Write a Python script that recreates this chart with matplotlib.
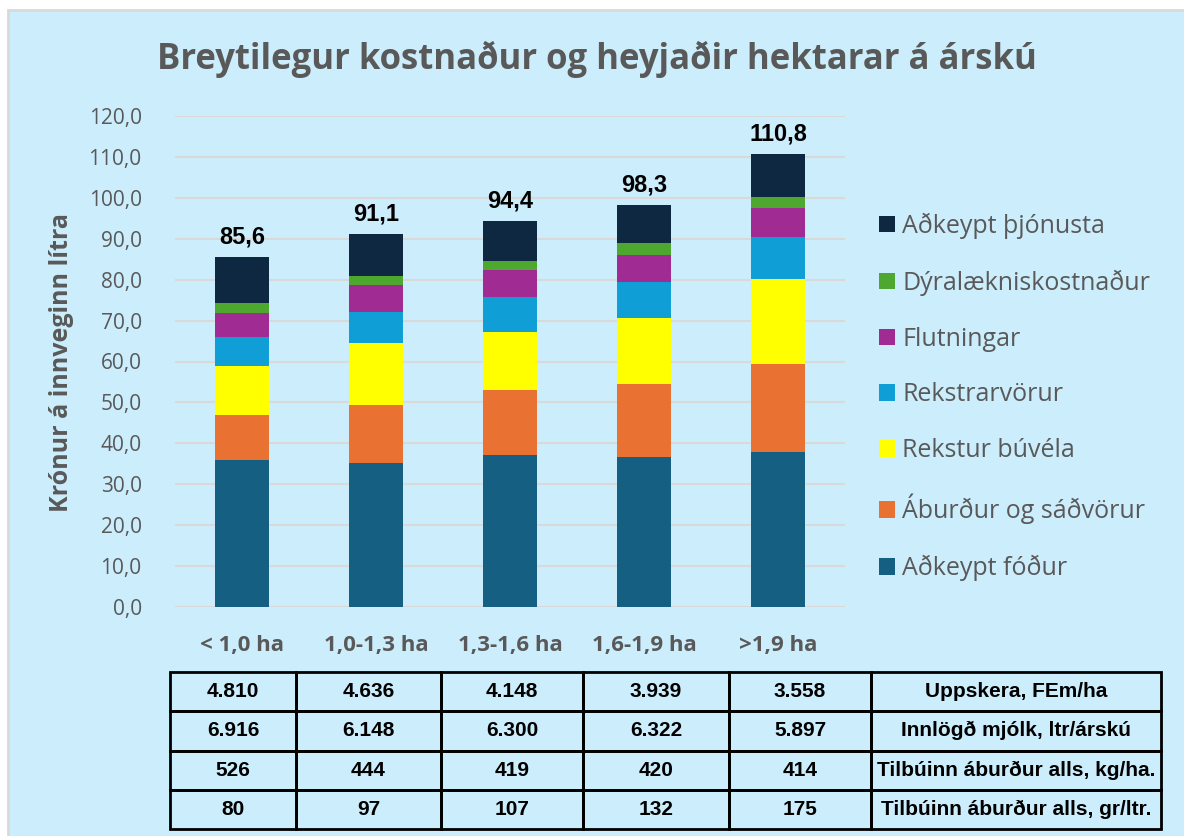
import matplotlib
matplotlib.use("Agg")
import matplotlib.pyplot as plt
from matplotlib.patches import Rectangle, Patch
from matplotlib.ticker import FuncFormatter, MultipleLocator

# --- Data ---
categories = ["< 1,0 ha", "1,0-1,3 ha", "1,3-1,6 ha", "1,6-1,9 ha", ">1,9 ha"]
fodur = [35.9, 35.3, 37.2, 36.6, 37.8]
aburdur = [11.0, 14.0, 15.9, 17.8, 21.7]
rekstur_buvela = [12.1, 15.2, 14.2, 16.3, 20.7]
rekstrarvorur = [6.9, 7.7, 8.4, 8.8, 10.3]
flutningar = [6.0, 6.6, 6.6, 6.6, 6.9]
dyralaeknis = [2.5, 2.2, 2.2, 2.8, 2.8]
thjonusta = [11.2, 10.1, 9.9, 9.4, 10.6]
totals = [85.6, 91.1, 94.4, 98.3, 110.8]

series_names = ["Aðkeypt fóður", "Áburður og sáðvörur", "Rekstur búvéla",
                "Rekstrarvörur", "Flutningar", "Dýralækniskostnaður",
                "Aðkeypt þjónusta"]
series_colors = ["#156082", "#E97132", "#FFFF00", "#0F9ED5", "#A02B93",
                 "#4EA72E", "#0E2841"]

# table below the chart
uppskera = [4810, 4636, 4148, 3939, 3558]
mjolk = [6916, 6148, 6300, 6322, 5897]
aburdur_kg_ha = [526, 444, 419, 420, 414]
aburdur_gr_ltr = [80, 97, 107, 132, 175]
row_labels = ["Uppskera, FEm/ha", "Innlögð mjólk, ltr/árskú",
              "Tilbúinn áburður alls, kg/ha.", "Tilbúinn áburður alls, gr/ltr."]

GRAY = "#595959"
BG = "#CCEDFB"
W, H = 1184, 836

fig = plt.figure(figsize=(W / 100, H / 100), dpi=100)
fig.patch.set_facecolor("white")
fig.add_artist(Rectangle((8 / W, -0.1), 1.2, (H - 10) / H + 0.1,
                         transform=fig.transFigure, facecolor=BG,
                         edgecolor="#D9D9D9", linewidth=2, zorder=-10))

ax = fig.add_axes([175 / W, (H - 607) / H, 670 / W, 491 / H])
ax.set_facecolor("none")

series = [fodur, aburdur, rekstur_buvela, rekstrarvorur, flutningar,
          dyralaeknis, thjonusta]
x = list(range(len(categories)))
bottom = [0.0] * len(categories)
handles = []
for name, vals, col in zip(series_names, series, series_colors):
    ax.bar(x, vals, width=0.4, bottom=bottom, color=col, zorder=3)
    bottom = [b + v for b, v in zip(bottom, vals)]
    handles.append(Patch(facecolor=col, label=name))

for xi, tot, top in zip(x, totals, bottom):
    ax.annotate(f"{tot:.1f}".replace(".", ","), (xi, top),
                xytext=(0, 6), textcoords="offset points",
                ha="center", va="bottom", fontsize=17, fontweight="bold",
                color="black", family="Liberation Sans")

ax.set_xlim(-0.5, 4.5)
ax.set_ylim(0, 120)
ax.yaxis.set_major_locator(MultipleLocator(10))
ax.yaxis.set_major_formatter(FuncFormatter(lambda v, p: f"{v:.1f}".replace(".", ",")))
ax.grid(axis="y", color="#D9D9D9", linewidth=1.5, zorder=0)
for s in ax.spines.values():
    s.set_visible(False)
ax.tick_params(axis="both", length=0)
ax.tick_params(axis="y", pad=24, labelsize=15, labelcolor=GRAY)
ax.tick_params(axis="x", pad=20, labelsize=16, labelcolor=GRAY)
for t in ax.get_yticklabels():
    t.set_family("Open Sans")
ax.set_xticks(x)
ax.set_xticklabels(categories, fontweight="bold", family="Open Sans")

fig.text(62 / W, 1 - 362 / H, "Krónur á innveginn lítra", rotation=90,
         ha="center", va="center", fontsize=18, fontweight="bold",
         color=GRAY, family="Open Sans")

fig.text(597 / W, 1 - 59 / H, "Breytilegur kostnaður og heyjaðir hektarar á árskú",
         ha="center", va="center", fontsize=25, fontweight="bold",
         color=GRAY, family=["Liberation Sans Narrow", "Open Sans"])

leg = ax.legend(handles=handles[::-1], loc="center left",
                bbox_to_anchor=(856 / W, 1 - 397 / H),
                bbox_transform=fig.transFigure, frameon=False,
                labelcolor=GRAY, handlelength=0.65, handleheight=0.65,
                handletextpad=0.3, labelspacing=1.23,
                prop={"family": "Open Sans", "size": 18})
for t in leg.get_texts():
    t.set_color(GRAY)

# --- Table ---
def fmt(v):
    return f"{v:,}".replace(",", ".")

rows = [uppskera, mjolk, aburdur_kg_ha, aburdur_gr_ltr]
cell_text = [[fmt(v) for v in r] + [lab] for r, lab in zip(rows, row_labels)]
col_edges = [170, 296, 441, 583, 729, 871, 1161]
col_w = [(b - a) / (col_edges[-1] - col_edges[0]) for a, b in zip(col_edges, col_edges[1:])]

tax = fig.add_axes([170 / W, (H - 829) / H, (1161 - 170) / W, (829 - 672) / H])
tax.axis("off")
tbl = tax.table(cellText=cell_text, colWidths=col_w, cellLoc="center",
                bbox=[0, 0, 1, 1])
tbl.auto_set_font_size(False)
for (r, c), cell in tbl.get_celld().items():
    cell.set_facecolor("none")
    cell.set_edgecolor("black")
    cell.set_linewidth(2)
    txt = cell.get_text()
    txt.set_fontsize(15)
    txt.set_fontweight("bold")
    txt.set_family(["Liberation Sans Narrow", "Liberation Sans"])

fig.savefig("out.png", dpi=100, facecolor=fig.get_facecolor())
